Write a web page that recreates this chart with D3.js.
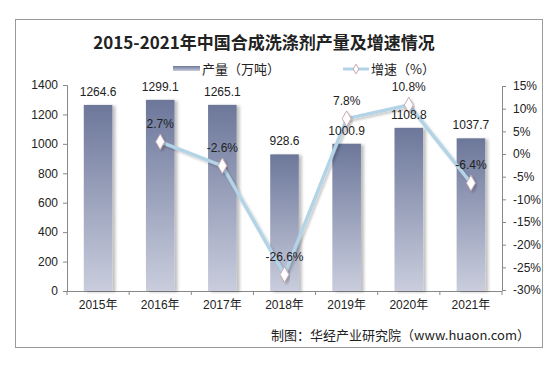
<!DOCTYPE html>
<html><head><meta charset="utf-8">
<script src="https://cdn.jsdelivr.net/npm/d3@7/dist/d3.min.js"></script>
<style>body{margin:0;background:#fff}svg{display:block}</style>
</head><body>
<svg id="c" width="556" height="367"></svg>
<script>
const years = ["2015年","2016年","2017年","2018年","2019年","2020年","2021年"];
const production = [1264.6,1299.1,1265.1,928.6,1000.9,1108.8,1037.7];
const growth = [null,2.7,-2.6,-26.6,7.8,10.8,-6.4];
const leftTicks = [0,200,400,600,800,1000,1200,1400];
const rightTicks = [-30,-25,-20,-15,-10,-5,0,5,10,15];
const title = "2015-2021年中国合成洗涤剂产量及增速情况";
const legendBar = "产量（万吨）";
const legendLine = "增速（%）";
const source = "制图：华经产业研究院（www.huaon.com）";

const svg = d3.select("#c");
const font = "'Liberation Sans', Arial, 'Noto Sans CJK SC', sans-serif";
const defs = svg.append("defs");
const g1 = defs.append("linearGradient").attr("id","bg").attr("x1",0).attr("y1",0).attr("x2",0).attr("y2",1);
g1.append("stop").attr("offset","0%").attr("stop-color","#6c779a");
g1.append("stop").attr("offset","100%").attr("stop-color","#c9cddd");
const f = defs.append("filter").attr("id","sh").attr("x","-20%").attr("y","-10%").attr("width","160%").attr("height","130%");
f.append("feDropShadow").attr("dx",3).attr("dy",1).attr("stdDeviation",1.5).attr("flood-color","#000").attr("flood-opacity",0.25);
const f2 = defs.append("filter").attr("id","sh2").attr("x","-10%").attr("y","-10%").attr("width","120%").attr("height","130%");
f2.append("feDropShadow").attr("dx",2).attr("dy",2).attr("stdDeviation",1.2).attr("flood-color","#000").attr("flood-opacity",0.2);

svg.append("rect").attr("x",15.5).attr("y",19.5).attr("width",527).attr("height",328)
  .attr("fill","#fff").attr("stroke","#9a9a9a").attr("stroke-width",1);

const x0 = 67, x1 = 502, yB = 291, yT = 85;
const x = d3.scaleBand().domain(years).range([x0,x1]).paddingInner(0.54).paddingOuter(0.27);
const xc = d3.scaleBand().domain(years).range([x0,x1]);
const yL = d3.scaleLinear().domain([0,1400]).range([yB,yT]);
const yR = d3.scaleLinear().domain([-30,15]).range([yB-1,yT+1]);

// title
svg.append("text").attr("x",264).attr("y",49).attr("text-anchor","middle")
  .attr("font-family","'Noto Sans CJK SC', sans-serif").attr("font-weight","bold")
  .attr("font-size",17).attr("fill","#222").text(title);

// legend
svg.append("rect").attr("x",173).attr("y",66).attr("width",27).attr("height",5).attr("fill","url(#bg)");
svg.append("text").attr("x",202).attr("y",74).attr("font-family","'Noto Sans CJK SC', sans-serif")
  .attr("font-size",13).attr("fill","#222").text(legendBar);
svg.append("line").attr("x1",343).attr("x2",369).attr("y1",69).attr("y2",69).attr("stroke","#b3d3e6").attr("stroke-width",3);
svg.append("path").attr("d",d3.symbol(d3.symbolDiamond,28)()).attr("transform","translate(356,69)")
  .attr("fill","#fff").attr("stroke","#c9a9b0");
svg.append("text").attr("x",371).attr("y",74).attr("font-family","'Noto Sans CJK SC', sans-serif")
  .attr("font-size",13).attr("fill","#222").text(legendLine);

// axes
const axL = svg.append("g").attr("transform",`translate(${x0},0)`)
  .call(d3.axisLeft(yL).tickValues(leftTicks).tickSize(4).tickPadding(5).tickFormat(d3.format("d")));
const axR = svg.append("g").attr("transform",`translate(${x1},0)`)
  .call(d3.axisRight(yR).tickValues(rightTicks).tickSize(4).tickPadding(7).tickFormat(d=>d+"%"));
const axX = svg.append("g").attr("transform",`translate(0,${yB})`)
  .call(d3.axisBottom(xc).tickSize(0).tickPadding(9));
// x boundary ticks
svg.append("g").selectAll("line").data(d3.range(years.length+1)).join("line")
  .attr("x1",i=>x0+i*xc.step()).attr("x2",i=>x0+i*xc.step())
  .attr("y1",yB).attr("y2",yB+4).attr("stroke","#888");
[axL,axR,axX].forEach(a=>{
  a.selectAll("path,line").attr("stroke","#888");
  a.selectAll("text").attr("font-family",font).attr("font-size",12).attr("fill","#222");
});
axX.select(".domain").attr("d",`M${x0},0.5H${x1}`);

// bars
svg.append("g").selectAll("rect").data(production).join("rect")
  .attr("x",(d,i)=>x(years[i])).attr("width",x.bandwidth())
  .attr("y",d=>yL(d)).attr("height",d=>yB-yL(d))
  .attr("fill","url(#bg)").attr("filter","url(#sh)");

// line
const pts = growth.map((v,i)=>({v,i})).filter(d=>d.v!==null);
const cx = i=>xc(years[i])+xc.bandwidth()/2;
const line = d3.line().x(d=>cx(d.i)).y(d=>yR(d.v));
svg.append("path").datum(pts).attr("d",line).attr("fill","none")
  .attr("stroke","#b3d3e6").attr("stroke-width",3.5).attr("filter","url(#sh2)");
svg.append("g").selectAll("path").data(pts).join("path")
  .attr("d",d3.symbol(d3.symbolDiamond,70)())
  .attr("transform",d=>`translate(${cx(d.i)},${yR(d.v)})`)
  .attr("fill","#fff").attr("stroke","#c9a9b0").attr("stroke-width",1).attr("filter","url(#sh2)");

// bar labels (on top of line)
svg.append("g").selectAll("text").data(production).join("text")
  .attr("x",(d,i)=>x(years[i])+x.bandwidth()/2).attr("y",d=>yL(d)-9)
  .attr("text-anchor","middle").attr("font-family",font).attr("font-size",12).attr("fill","#222")
  .text(d=>d.toFixed(1));
svg.append("g").selectAll("text").data(pts).join("text")
  .attr("x",d=>cx(d.i)).attr("y",d=>yR(d.v)-14)
  .attr("text-anchor","middle").attr("font-family",font).attr("font-size",12).attr("fill","#222")
  .text(d=>d.v.toFixed(1)+"%");

// source
svg.append("text").attr("x",530).attr("y",340).attr("text-anchor","end")
  .attr("font-family","'Noto Sans CJK SC', sans-serif").attr("font-size",13).attr("fill","#222").text(source);
</script>
</body></html>
